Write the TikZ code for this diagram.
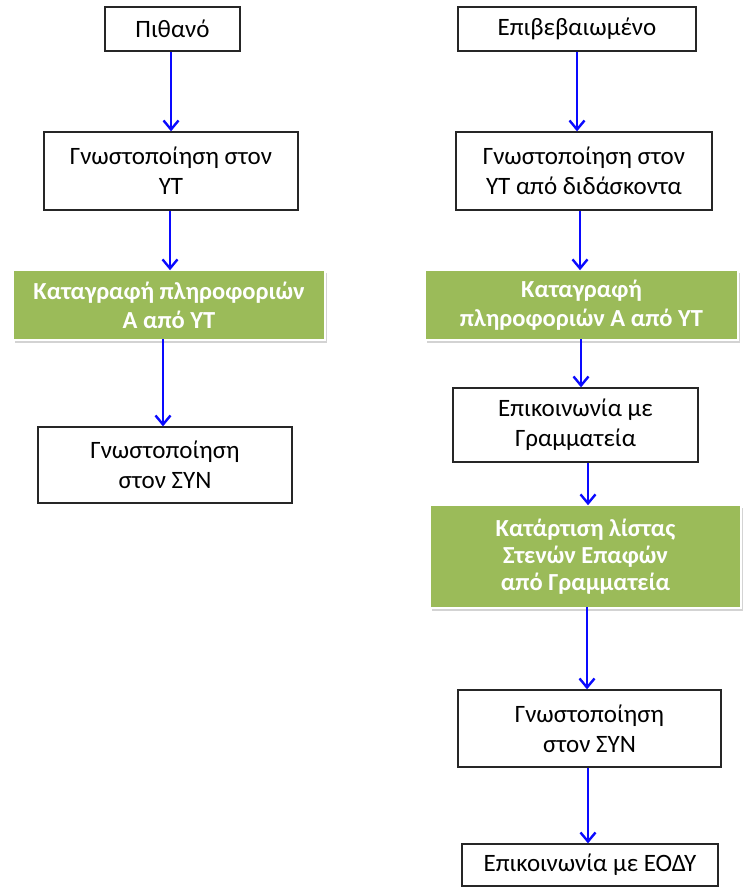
\documentclass[tikz,border=0pt]{standalone}
\usepackage{fontspec}
\setmainfont{Carlito}
\usetikzlibrary{arrows.meta,shadows}
\definecolor{boxgreen}{HTML}{9BBB59}
\definecolor{arrblue}{RGB}{10,10,255}
\begin{document}
\begin{tikzpicture}[x=1pt,y=-1pt,
  wbox/.style={draw=black!85,line width=1.3pt,fill=white,align=center,inner sep=0pt,font=\fontsize{25}{30}\selectfont},
  gbox/.style={draw=white,line width=2.5pt,fill=boxgreen,align=center,inner sep=0pt,text=white,
     font=\fontsize{24.5}{29}\selectfont\bfseries,
     drop shadow={opacity=0.35,shadow xshift=2pt,shadow yshift=-3pt}},
  arr/.style={draw=arrblue,line width=2.6pt,-{Straight Barb[length=9pt,width=15pt,line width=2.4pt]}}]
\useasboundingbox (0,0) rectangle (743,888);
% left column
\node[wbox,minimum width=135,minimum height=44] (p1) at (172.5,29) {Πιθανό};
\node[wbox,minimum width=254,minimum height=78] (p2) at (171,171) {Γνωστοποίηση στον\\ΥΤ};
\node[gbox,minimum width=312,minimum height=70] (p3) at (169,305) {Καταγραφή πληροφοριών\\Α από ΥΤ};
\node[wbox,minimum width=254,minimum height=76] (p4) at (165,465) {Γνωστοποίηση\\στον ΣΥΝ};
% right column
\node[wbox,minimum width=238,minimum height=44] (r1) at (577,29) {Επιβεβαιωμένο};
\node[wbox,minimum width=256,minimum height=78] (r2) at (584,171) {Γνωστοποίηση στον\\ΥΤ από διδάσκοντα};
\node[gbox,minimum width=313,minimum height=70] (r3) at (581.5,305) {Καταγραφή\\πληροφοριών Α από ΥΤ};
\node[wbox,minimum width=245,minimum height=74] (r4) at (575.5,425) {Επικοινωνία με\\Γραμματεία};
\node[gbox,minimum width=311,minimum height=103,font=\fontsize{24.5}{27}\selectfont\bfseries] (r5) at (585.5,556.5) {Κατάρτιση λίστας\\Στενών Επαφών\\από Γραμματεία};
\node[wbox,minimum width=263,minimum height=77] (r6) at (589.5,728.5) {Γνωστοποίηση\\στον ΣΥΝ};
\node[wbox,minimum width=256,minimum height=42] (r7) at (590,865) {Επικοινωνία με ΕΟΔΥ};
% arrows
\draw[arr] (p1.south -| 171,0) -- (p2.north -| 171,0);
\draw[arr] (p2.south -| 170,0) -- ([yshift=-1.5pt]p3.north -| 170,0);
\draw[arr] ([yshift=2pt]p3.south -| 163,0) -- (p4.north -| 163,0);
\draw[arr] (r1.south -| 577,0) -- (r2.north -| 577,0);
\draw[arr] (r2.south -| 580,0) -- ([yshift=-1.5pt]r3.north -| 580,0);
\draw[arr] ([yshift=2pt]r3.south -| 581,0) -- (r4.north -| 581,0);
\draw[arr] (r4.south -| 588,0) -- ([yshift=-1.5pt]r5.north -| 588,0);
\draw[arr] ([yshift=2pt]r5.south -| 587,0) -- (r6.north -| 587,0);
\draw[arr] (r6.south -| 588,0) -- (r7.north -| 588,0);
\end{tikzpicture}
\end{document}
